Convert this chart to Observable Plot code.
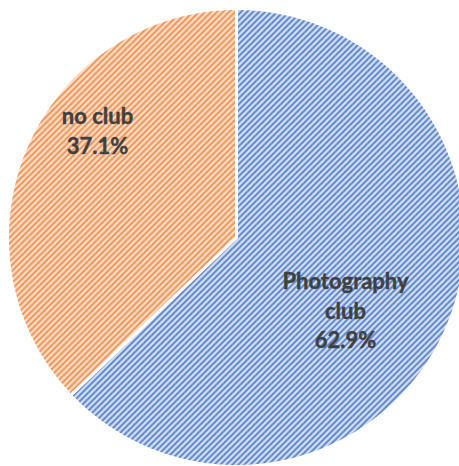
<!DOCTYPE html>
<html>
<head>
<meta charset="utf-8">
<script src="https://cdn.jsdelivr.net/npm/d3@7"></script>
<script src="https://cdn.jsdelivr.net/npm/@observablehq/plot@0.6"></script>
<style>
  html, body { margin: 0; padding: 0; background: #fff; }
  #chart svg { display: block; }
</style>
</head>
<body>
<div id="chart"></div>
<script>
// ---- data ----
const categories = ["Photography club", "no club"];
const shares = [62.9, 37.1];
const labelTexts = ["Photography\nclub", "no club"];
const patternIds = ["stripeBlue", "stripeOrange"];

// ---- layout constants ----
const W = 459, H = 466;
const R = 229;               // pie radius (px units)
const CX = 236, CY = 237;     // pie center in pixels
// label anchor offsets from pie center (px, y up)
const labelOffsets = [[109, -72], [-139, 108]];

// ---- build slice polygons from data ----
const arcs = d3.pie().sort(null)(shares);
const slicePoints = [];
arcs.forEach((a, i) => {
  const cat = categories[i];
  const fill = `url(#${patternIds[i]})`;
  slicePoints.push({cat, fill, x: 0, y: 0});
  const n = Math.max(8, Math.ceil((a.endAngle - a.startAngle) * 120));
  for (let k = 0; k <= n; k++) {
    const t = a.startAngle + (a.endAngle - a.startAngle) * k / n;
    slicePoints.push({cat, fill, x: R * Math.sin(t), y: R * Math.cos(t)});
  }
  slicePoints.push({cat, fill, x: 0, y: 0});
});

const labels = categories.map((c, i) => ({
  text: `${labelTexts[i]}\n${shares[i].toFixed(1)}%`,
  x: labelOffsets[i][0],
  y: labelOffsets[i][1]
}));

const plot = Plot.plot({
  width: W,
  height: H,
  margin: 0,
  x: {domain: [-CX, W - CX], axis: null},
  y: {domain: [CY - H, CY], axis: null},
  color: {type: "identity"},
  style: {background: "white", overflow: "hidden"},
  marks: [
    Plot.line(slicePoints, {
      x: "x", y: "y", z: "cat", fill: "fill",
      stroke: "white", strokeWidth: 3, strokeLinejoin: "round"
    }),
    Plot.text(labels, {
      x: "x", y: "y", text: "text",
      fontSize: 22, fontWeight: "bold", fontFamily: "Lato, 'Open Sans', sans-serif",
      fill: "#404040", stroke: "#404040", strokeWidth: 0.4,
      lineHeight: 1.34, textAnchor: "middle"
    })
  ]
});

// ---- pattern definitions (diagonal stripes, "/" direction) ----
const svg = d3.select(plot);
const defs = svg.insert("defs", ":first-child");
const patternStyles = [
  {id: "stripeBlue", bg: "#d9e3f5", fg: "#4674c6"},
  {id: "stripeOrange", bg: "#fde1cd", fg: "#ef8540"}
];
patternStyles.forEach(p => {
  const s = 6;
  const pat = defs.append("pattern")
    .attr("id", p.id)
    .attr("patternUnits", "userSpaceOnUse")
    .attr("width", s).attr("height", s);
  pat.append("rect").attr("width", s).attr("height", s).attr("fill", p.bg);
  pat.append("path")
    .attr("d", `M${-1},${1} L${1},${-1} M0,${s} L${s},0 M${s - 1},${s + 1} L${s + 1},${s - 1}`)
    .attr("stroke", p.fg).attr("stroke-width", 1.7);
});

document.getElementById("chart").appendChild(plot);
</script>
</body>
</html>
